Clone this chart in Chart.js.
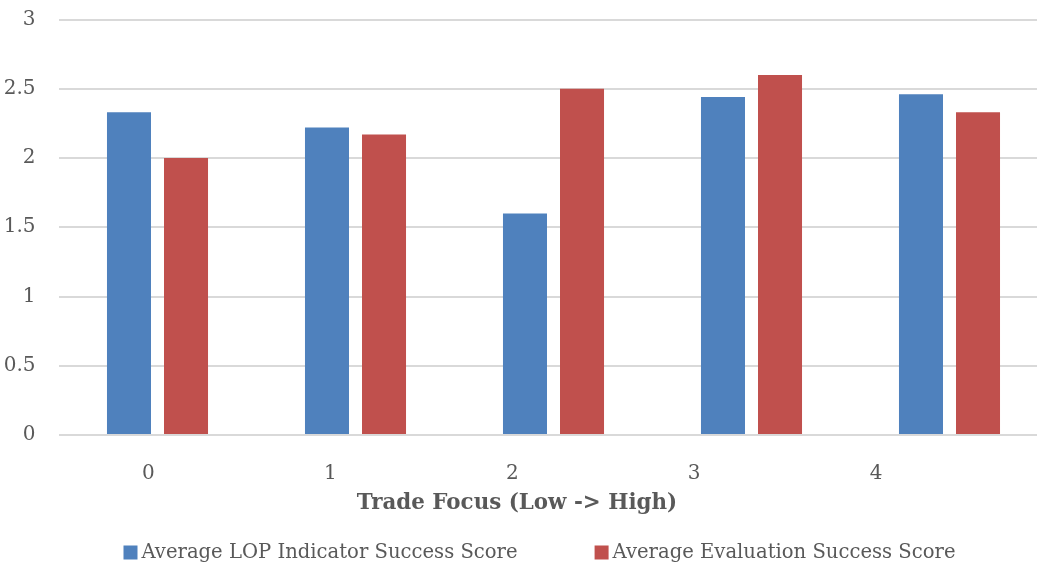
<!DOCTYPE html>
<html>
<head>
<meta charset="utf-8">
<script src="https://cdn.jsdelivr.net/npm/chart.js@4.4.1/dist/chart.umd.min.js"></script>
<style>
  html, body { margin: 0; padding: 0; background: #ffffff; overflow: hidden; }
  #wrap { width: 1050px; height: 565px; position: relative; }
</style>
</head>
<body>
<div id="wrap"><canvas id="chart"></canvas></div>
<script>
// Trade focus levels (low -> high)
const categories = ['0', '1', '2', '3', '4'];
const lopScores = [2.33, 2.22, 1.60, 2.44, 2.46];
const evalScores = [2.00, 2.17, 2.50, 2.60, 2.33];
const yTicks = [0, 0.5, 1, 1.5, 2, 2.5, 3];
const seriesNames = ['Average LOP Indicator Success Score', 'Average Evaluation Success Score'];
const seriesColors = ['#4f81bd', '#c0504d'];
const xTitle = 'Trade Focus (Low -> High)';

const textColor = '#595959';
const gridColor = '#d9d9d9';
const serif = "'DejaVu Serif', 'Liberation Serif', serif";

// Axis title centred on the visible page, and a legend row beneath it:
// square swatch, short gap, series name
const bottomText = {
  id: 'bottomText',
  afterDraw(chart) {
    const ctx = chart.ctx;
    ctx.save();
    ctx.textBaseline = 'middle';

    ctx.font = 'bold 21.4px ' + serif;
    ctx.textAlign = 'center';
    ctx.fillStyle = textColor;
    ctx.fillText(xTitle, Math.min(chart.width, window.innerWidth) / 2 - 1.5, 503);

    const box = 14, gap = 4, itemGap = 77;
    ctx.font = '19.6px ' + serif;
    ctx.textAlign = 'left';
    const items = chart.data.datasets.map(ds => ({
      label: ds.label, color: ds.backgroundColor, w: ctx.measureText(ds.label).width
    }));
    const total = items.reduce((s, it) => s + box + gap + it.w, 0) + itemGap * (items.length - 1);
    const center = (chart.chartArea.left + chart.chartArea.right) / 2 - 14;
    let x = center - total / 2;
    const y = 552;
    items.forEach(it => {
      ctx.fillStyle = it.color;
      ctx.fillRect(x, y - box / 2 + 0.5, box, box);
      x += box + gap;
      ctx.fillStyle = textColor;
      ctx.fillText(it.label, x, y + 1);
      x += it.w + itemGap;
    });
    ctx.restore();
  }
};

new Chart(document.getElementById('chart'), {
  type: 'bar',
  data: {
    labels: categories,
    datasets: [
      { label: seriesNames[0], data: lopScores, backgroundColor: seriesColors[0], borderWidth: 0,
        categoryPercentage: 0.576, barPercentage: 0.772 },
      { label: seriesNames[1], data: evalScores, backgroundColor: seriesColors[1], borderWidth: 0,
        categoryPercentage: 0.576, barPercentage: 0.772 }
    ]
  },
  options: {
    responsive: true,
    maintainAspectRatio: false,
    animation: false,
    layout: { padding: { left: 0, right: 1.5, top: 19.5, bottom: 30 } },
    plugins: {
      tooltip: { enabled: false },
      legend: { display: false }
    },
    scales: {
      x: {
        type: 'category',
        grid: { display: false, drawTicks: false },
        border: { display: false },
        ticks: { display: false },
        afterFit: axis => { axis.height = 0; axis.paddingLeft = 0; axis.paddingRight = 0; }
      },
      xLabels: {
        type: 'linear',
        position: 'bottom',
        offset: false,
        min: -0.4945,
        max: 4.948,
        afterBuildTicks: axis => { axis.ticks = categories.map((c, i) => ({ value: i })); },
        afterFit: axis => { axis.height = 100; axis.paddingLeft = 0; axis.paddingRight = 0; },
        grid: { display: false, drawTicks: false, offset: false },
        border: { display: false },
        ticks: {
          color: textColor,
          font: { family: serif, size: 20 },
          padding: 27,
          maxRotation: 0,
          callback: v => categories[v]
        }
      },
      y: {
        min: 0,
        max: 3,
        afterBuildTicks: axis => { axis.ticks = yTicks.map(v => ({ value: v })); },
        afterFit: axis => { axis.width = 58.5; axis.paddingTop = 0; axis.paddingBottom = 0; },
        grid: { color: gridColor, lineWidth: 2, drawTicks: false },
        border: { display: false },
        ticks: {
          color: textColor,
          font: { family: serif, size: 20 },
          padding: 23,
          callback: v => String(v)
        }
      }
    }
  },
  plugins: [bottomText]
});
</script>
</body>
</html>
